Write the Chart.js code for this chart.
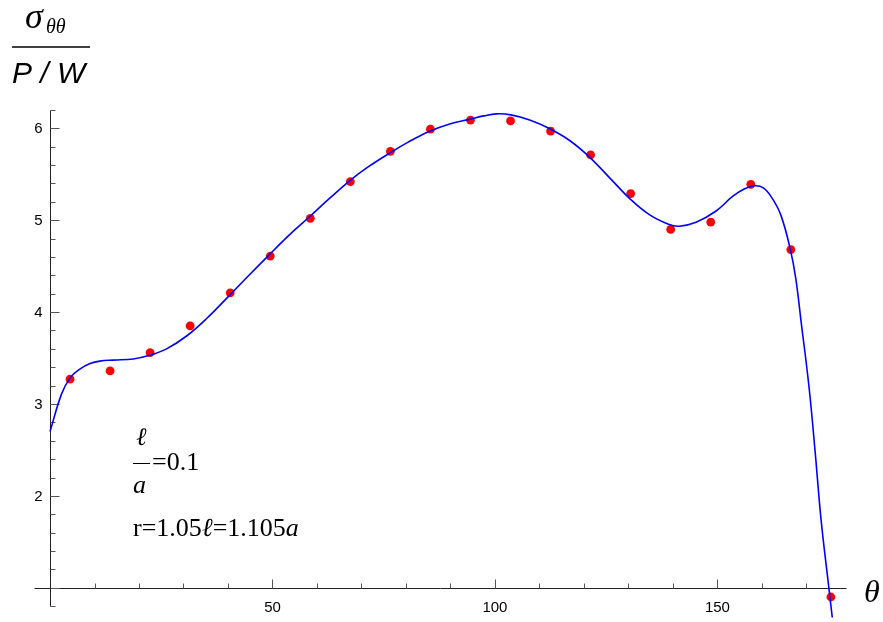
<!DOCTYPE html>
<html>
<head>
<meta charset="utf-8">
<script src="https://cdn.jsdelivr.net/npm/chart.js@4/dist/chart.umd.min.js"></script>
<style>
  html, body { margin: 0; padding: 0; background: #fff; }
  canvas { display: block; }
</style>
</head>
<body>
<canvas id="chart" width="883" height="622"></canvas>
<script>
// measured points (theta in degrees, sigma_thetatheta / (P/W))
const thetaPoints = [4.5, 13.5, 22.5, 31.5, 40.5, 49.5, 58.5, 67.5, 76.5, 85.5, 94.5, 103.5, 112.5, 121.5, 130.5, 139.5, 148.5, 157.5, 166.5, 175.5];
const sigmaPoints = [3.27, 3.36, 3.56, 3.85, 4.21, 4.61, 5.02, 5.42, 5.75, 5.99, 6.09, 6.08, 5.97, 5.71, 5.29, 4.90, 4.98, 5.39, 4.68, 0.90];

// analytic curve
const curveTheta = [0, 2.6, 4.6, 6.7, 9, 11.2, 14.2, 18.7, 22.4, 26.2, 30.7, 35.2, 40.5, 44.5, 49.2, 53.8, 58.4, 63, 67.6, 71.5, 76, 80.5, 85.2, 90, 94.4, 97.5, 100.3, 103.6, 107.8, 112.1, 116.7, 121.2, 126, 130.4, 134.7, 139, 141.4, 145.2, 149.7, 153.4, 156, 158.4, 160.4, 162.3, 164.3, 166.4, 167.6, 168.8, 170.6, 172, 173.3, 175, 176];
const curveSigma = [2.70, 3.11, 3.29, 3.38, 3.44, 3.467, 3.478, 3.49, 3.53, 3.60, 3.74, 3.93, 4.19, 4.39, 4.62, 4.84, 5.04, 5.245, 5.44, 5.58, 5.72, 5.85, 5.966, 6.05, 6.10, 6.135, 6.157, 6.146, 6.09, 6.00, 5.87, 5.69, 5.45, 5.23, 5.06, 4.956, 4.934, 4.977, 5.10, 5.258, 5.34, 5.375, 5.35, 5.24, 5.05, 4.68, 4.37, 3.90, 3.18, 2.46, 1.74, 1.02, 0.60];

// axes
const xRange = [-3.6, 178.9];
const yRange = [0.676, 6.21];
const xLabelTicks = [50, 100, 150];
const yLabelTicks = [2, 3, 4, 5, 6];
const yAxisSpan = [0.8, 6.2];

const SERIF = '"Liberation Serif", "DejaVu Serif", serif';
const SANS = '"Liberation Sans", Arial, sans-serif';

function seg(ctx, x1, y1, x2, y2) {
  ctx.beginPath();
  ctx.moveTo(x1, y1);
  ctx.lineTo(x2, y2);
  ctx.stroke();
}

function runs(ctx, x, y, parts) {
  parts.forEach(([text, font]) => {
    ctx.font = font;
    ctx.fillText(text, x, y);
    x += ctx.measureText(text).width;
  });
}

const mmaAxes = {
  id: 'mmaAxes',
  beforeDatasetsDraw(chart) {
    const {ctx, scales: {x, y}} = chart;
    const px = v => Math.round(x.getPixelForValue(v)) + 0.5;
    const py = v => Math.round(y.getPixelForValue(v)) + 0.5;
    const x0 = px(0), y1 = py(1);

    ctx.save();
    ctx.lineWidth = 1;
    ctx.strokeStyle = '#222';
    seg(ctx, px(xRange[0]), y1, px(xRange[1]), y1);
    seg(ctx, x0, py(yAxisSpan[0]), x0, py(yAxisSpan[1]));

    // ticks
    ctx.strokeStyle = '#555';
    for (let t = 10; t <= 170; t += 10) {
      const len = xLabelTicks.includes(t) ? 9 : 5;
      seg(ctx, px(t), y1, px(t), y1 - len);
    }
    for (let k = 4; k <= 31; k++) {
      const v = k / 5;
      const len = k % 5 === 0 ? 9 : 5;
      seg(ctx, x0, py(v), x0 + len, py(v));
    }

    ctx.fillStyle = '#000';
    ctx.font = '15px ' + SANS;
    ctx.textBaseline = 'middle';
    ctx.textAlign = 'center';
    xLabelTicks.forEach(t => ctx.fillText(String(t), x.getPixelForValue(t), y1 + 19));
    ctx.textAlign = 'right';
    yLabelTicks.forEach(v => ctx.fillText(String(v), x0 - 8, y.getPixelForValue(v) + 1));

    // axis labels
    ctx.textAlign = 'left';
    ctx.textBaseline = 'alphabetic';
    runs(ctx, 25, 28, [['σ', 'italic 36px ' + SERIF]]);
    runs(ctx, 46, 33, [['θθ', 'italic 20px ' + SERIF]]);
    ctx.strokeStyle = '#000';
    ctx.lineWidth = 1.5;
    seg(ctx, 12, 47, 90, 47);
    runs(ctx, 12, 83, [['P / W', 'italic 30px ' + SANS]]);
    runs(ctx, 864, 602, [['θ', 'italic 32px ' + SERIF]]);

    // annotation
    runs(ctx, 136, 445, [['ℓ', 'italic 25px ' + SERIF]]);
    ctx.lineWidth = 1;
    seg(ctx, 133, 463.5, 150, 463.5);
    runs(ctx, 152, 470, [['=0.1', '26px ' + SERIF]]);
    runs(ctx, 133, 493, [['a', 'italic 26px ' + SERIF]]);
    runs(ctx, 133, 536, [
      ['r=1.05', '26px ' + SERIF],
      ['ℓ', 'italic 26px ' + SERIF],
      ['=1.105', '26px ' + SERIF],
      ['a', 'italic 26px ' + SERIF]
    ]);
    ctx.restore();
  }
};

const curveData = curveTheta.map((t, i) => ({x: t, y: curveSigma[i]}));
const pointData = thetaPoints.map((t, i) => ({x: t, y: sigmaPoints[i]}));

new Chart(document.getElementById('chart').getContext('2d'), {
  type: 'scatter',
  data: {
    datasets: [
      {
        label: 'theory',
        data: curveData,
        showLine: true,
        borderColor: '#0000ff',
        borderWidth: 1.6,
        pointRadius: 0,
        tension: 0.4
      },
      {
        label: 'data',
        data: pointData,
        backgroundColor: '#ff0000',
        borderWidth: 0,
        pointRadius: 4.4
      }
    ]
  },
  options: {
    responsive: false,
    animation: false,
    devicePixelRatio: 1,
    layout: {padding: {left: 34, right: 37, top: 109, bottom: 0}},
    scales: {
      x: {type: 'linear', display: false, min: xRange[0], max: xRange[1], bounds: 'data'},
      y: {type: 'linear', display: false, min: yRange[0], max: yRange[1], bounds: 'data'}
    },
    plugins: {legend: {display: false}, tooltip: {enabled: false}}
  },
  plugins: [mmaAxes]
});
</script>
</body>
</html>
